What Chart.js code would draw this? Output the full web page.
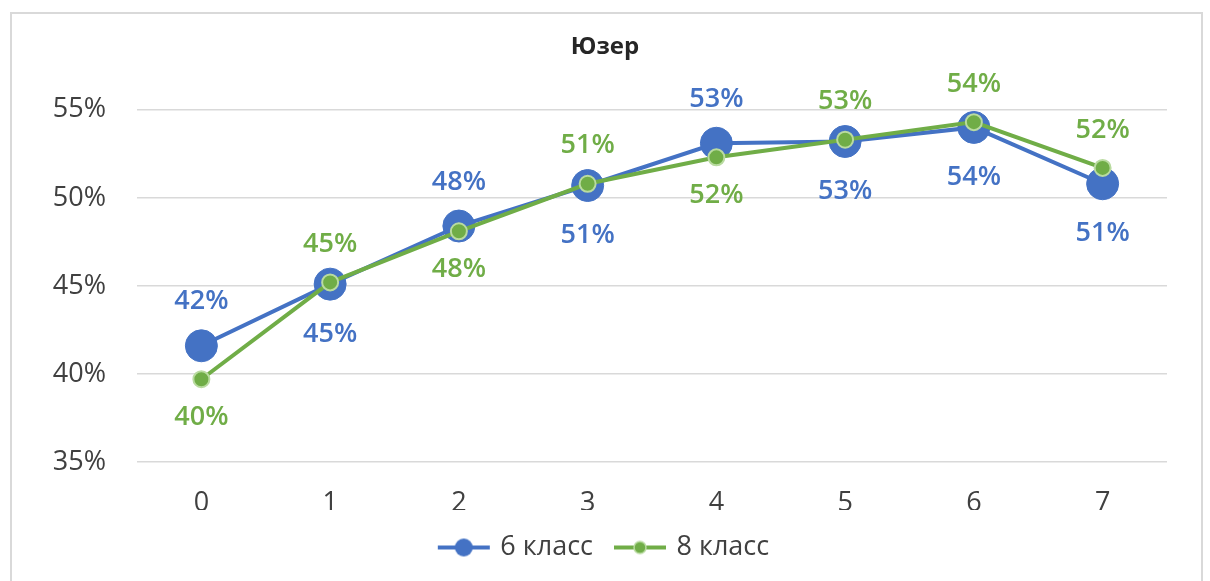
<!DOCTYPE html>
<html>
<head>
<meta charset="utf-8">
<script src="https://cdn.jsdelivr.net/npm/chart.js@4.4.1/dist/chart.umd.min.js"></script>
<style>
  html, body { margin: 0; padding: 0; background: #fff; }
  #wrap { position: relative; width: 1210px; height: 581px; }
</style>
</head>
<body>
<div id="wrap"><canvas id="linechart" width="1210" height="581"></canvas></div>
<script>
const categorias = ['0', '1', '2', '3', '4', '5', '6', '7'];
const classe6 = [41.6, 45.1, 48.4, 50.7, 53.1, 53.2, 54.0, 50.8];
const classe8 = [39.7, 45.2, 48.1, 50.8, 52.3, 53.3, 54.3, 51.7];
const ticksY = [35, 40, 45, 50, 55];

const AZUL = '#4472C4';
const VERDE = '#70AD47';
const FONTE = "'Open Sans', 'DejaVu Sans', sans-serif";

// little line+dot image for the legend
function iconeLegenda(cor, raio, borda) {
    const c = document.createElement('canvas');
    c.width = 56;
    c.height = 22;
    const g = c.getContext('2d');
    g.strokeStyle = cor;
    g.lineWidth = 4;
    g.beginPath();
    g.moveTo(2, 11);
    g.lineTo(54, 11);
    g.stroke();
    g.beginPath();
    g.arc(28, 11, raio, 0, Math.PI * 2);
    g.fillStyle = cor;
    g.fill();
    if (borda) {
        g.lineWidth = 1.5;
        g.strokeStyle = borda;
        g.stroke();
    }
    return c;
}

// outer frame of the chart
const moldura = {
    id: 'moldura',
    beforeDraw(chart) {
        const ctx = chart.ctx;
        ctx.save();
        ctx.strokeStyle = '#d9d9d9';
        ctx.lineWidth = 2;
        ctx.strokeRect(11, 13, 1191, 600);
        ctx.restore();
    }
};

// value labels: higher series of each category gets its label above
const rotulos = {
    id: 'rotulos',
    afterDatasetsDraw(chart) {
        const ctx = chart.ctx;
        const sets = chart.data.datasets;
        ctx.save();
        ctx.font = "600 27px " + FONTE;
        ctx.textAlign = 'center';
        ctx.textBaseline = 'middle';
        sets.forEach((ds, d) => {
            const meta = chart.getDatasetMeta(d);
            const outro = sets[1 - d].data;
            meta.data.forEach((pt, i) => {
                const acima = ds.data[i] > outro[i];
                const y = acima ? pt.y - ds.rotuloAcima : pt.y + ds.rotuloAbaixo;
                ctx.fillStyle = ds.borderColor;
                ctx.fillText(Math.round(ds.data[i]) + '%', pt.x, y);
            });
        });
        ctx.restore();
    }
};

function inicializarGrafico() {
    const ctx = document.getElementById('linechart').getContext('2d');
    return new Chart(ctx, {
        type: 'line',
        data: {
            labels: categorias,
            datasets: [{
                label: '6 класс',
                data: classe6,
                order: 1,
                borderColor: AZUL,
                backgroundColor: AZUL,
                borderWidth: 4,
                pointRadius: 16,
                pointBorderWidth: 1,
                pointBorderColor: AZUL,
                pointBackgroundColor: AZUL,
                pointStyle: 'circle',
                rotuloAcima: 44,
                rotuloAbaixo: 50,
                icone: iconeLegenda(AZUL, 9)
            }, {
                label: '8 класс',
                data: classe8,
                order: 0,
                borderColor: VERDE,
                backgroundColor: VERDE,
                borderWidth: 4,
                pointRadius: 8,
                pointBorderWidth: 2,
                pointBorderColor: '#b9dba0',
                pointBackgroundColor: VERDE,
                pointStyle: 'circle',
                rotuloAcima: 38,
                rotuloAbaixo: 38,
                icone: iconeLegenda(VERDE, 6, '#b9dba0')
            }]
        },
        options: {
            responsive: false,
            animation: false,
            layout: { padding: { left: 43, right: 43, top: 0, bottom: 10 } },
            plugins: {
                title: {
                    display: true,
                    text: 'Юзер',
                    color: '#262626',
                    font: { family: FONTE, size: 24, weight: 'bold' },
                    padding: { top: 33, bottom: 48 }
                },
                legend: {
                    position: 'bottom',
                    labels: {
                        usePointStyle: true,
                        pointStyleWidth: 46,
                        padding: 24,
                        color: '#404040',
                        font: { family: FONTE, size: 27 },
                        generateLabels(chart) {
                            return chart.data.datasets.map((ds, i) => ({
                                text: ds.label,
                                pointStyle: ds.icone,
                                fillStyle: ds.borderColor,
                                strokeStyle: ds.borderColor,
                                lineWidth: 0,
                                fontColor: '#404040',
                                datasetIndex: i
                            }));
                        }
                    }
                },
                tooltip: { enabled: false }
            },
            scales: {
                x: {
                    offset: true,
                    grid: { display: false, drawTicks: false },
                    border: { display: false },
                    ticks: { color: '#404040', padding: 25, font: { family: FONTE, size: 27 } },
                    afterFit(scale) { scale.height = 48; }
                },
                y: {
                    min: ticksY[0],
                    max: ticksY[ticksY.length - 1],
                    afterBuildTicks(scale) { scale.ticks = ticksY.map(v => ({ value: v })); },
                    grid: { color: '#d9d9d9', lineWidth: 1.5, drawTicks: false },
                    border: { display: false },
                    ticks: {
                        color: '#404040',
                        padding: 31,
                        font: { family: FONTE, size: 27 },
                        callback: v => v + '%'
                    },
                    afterFit(scale) { scale.width = 94; }
                }
            }
        },
        plugins: [moldura, rotulos]
    });
}

const grafico = inicializarGrafico();
</script>
</body>
</html>
